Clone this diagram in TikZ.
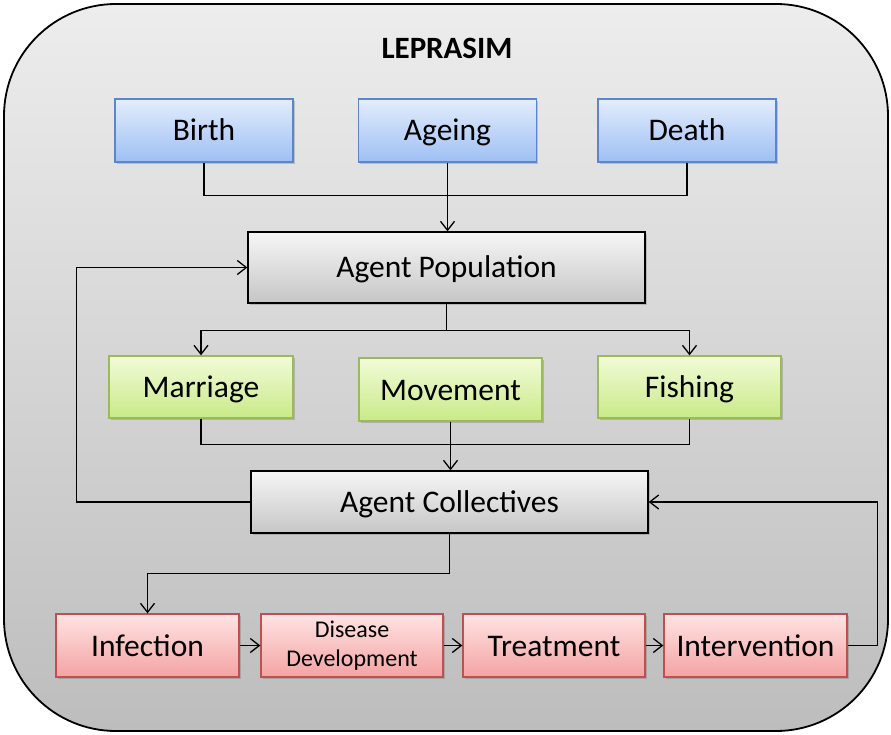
\documentclass[tikz,border=0pt]{standalone}
\usepackage{fontspec}
\setmainfont{Carlito}
\usetikzlibrary{arrows.meta,shadows}

\definecolor{frameTop}{HTML}{EDEDED}
\definecolor{frameBot}{HTML}{BDBDBD}
\definecolor{blueTop}{HTML}{E3EDFC}
\definecolor{blueBot}{HTML}{9EBFF4}
\definecolor{blueLine}{HTML}{5B87C9}
\definecolor{greenTop}{HTML}{F2FBD8}
\definecolor{greenBot}{HTML}{C9EA88}
\definecolor{greenLine}{HTML}{9BBB59}
\definecolor{grayTop}{HTML}{F6F6F6}
\definecolor{grayBot}{HTML}{C6C6C6}
\definecolor{redTop}{HTML}{FFE3E3}
\definecolor{redBot}{HTML}{F4A3A3}
\definecolor{redLine}{HTML}{C0504D}

\tikzset{
  box/.style={rectangle, line width=1.3pt, inner sep=0pt, align=center,
    font=\fontsize{31.5}{36}\selectfont, text height=24pt, text depth=3pt,
    drop shadow={shadow xshift=1.5pt, shadow yshift=-2pt, opacity=0.3, fill=black!60}},
  bluebox/.style={box, draw=blueLine, top color=blueTop, bottom color=blueBot,
    minimum width=178pt, minimum height=63pt},
  greenbox/.style={box, draw=greenLine, top color=greenTop, bottom color=greenBot,
    minimum width=184pt, minimum height=62pt},
  graybox/.style={box, draw=black, top color=grayTop, bottom color=grayBot,
    minimum width=397pt},
  redbox/.style={box, draw=redLine, top color=redTop, bottom color=redBot,
    minimum width=183pt, minimum height=63pt},
  link/.style={line width=1.3pt, draw=black},
  arr/.style={link, -{Straight Barb[length=9pt,width=14pt,line width=1.3pt]}}
}

\begin{document}
\begin{tikzpicture}[x=1pt,y=-1pt]
  \useasboundingbox (0,0) rectangle (891,735);

  % outer frame
  \draw[line width=1.8pt, top color=frameTop, bottom color=frameBot, rounded corners=112pt]
    (4,4) rectangle (888,731);

  \node[font=\fontsize{31}{36}\selectfont\bfseries] (title) at (447,48) {LEPRASIM};

  % demography
  \node[bluebox] (birth)  at (204,130.5)   {Birth};
  \node[bluebox] (ageing) at (447.5,130.5) {Ageing};
  \node[bluebox] (death)  at (687,130.5)   {Death};

  \node[graybox, minimum height=71pt] (pop) at (446.5,267.5) {Agent Population};

  % social processes
  \node[greenbox] (marriage) at (201,387)     {Marriage};
  \node[greenbox, minimum width=183pt, minimum height=63pt] (movement) at (450.5,389.5) {Movement};
  \node[greenbox, minimum width=183pt] (fishing)  at (689.5,387)   {Fishing};

  \node[graybox, minimum height=62pt] (coll) at (449.5,502) {Agent Collectives};

  % disease chain
  \node[redbox] (infection)    at (147.5,645.5) {Infection};
  \node[redbox, minimum width=182pt, font=\fontsize{24}{29}\selectfont,
        text height=, text depth=] (disease) at (352,645.5) {\raisebox{-2pt}{Disease}\\\raisebox{-2pt}{Development}};
  \node[redbox, minimum width=182pt] (treatment)    at (554,645.5)   {Treatment};
  \node[redbox] (intervention) at (755.5,645.5) {Intervention};

  % connectors
  \draw[link] (birth.south) -- ++(0,33) -| (death.south);
  \draw[arr] (ageing.south) -- (ageing.south |- pop.north);

  \draw[link] (pop.south) -- ++(0,27) coordinate (split);
  \draw[arr] (split) -| (marriage.north);
  \draw[arr] (split) -| (fishing.north);

  \draw[link] (marriage.south) -- ++(0,26) -| (fishing.south);
  \draw[arr] (movement.south) -- (movement.south |- coll.north);

  \draw[arr] (coll.west) -- ++(-174,0) |- (pop.west);

  \draw[arr] (coll.south) -- ++(0,40) -| (infection.north);

  \draw[arr] (infection.east) -- (disease.west);
  \draw[arr] (disease.east) -- (treatment.west);
  \draw[arr] (treatment.east) -- (intervention.west);

  \draw[arr] (intervention.east) -- ++(30,0) |- (coll.east);
\end{tikzpicture}
\end{document}
